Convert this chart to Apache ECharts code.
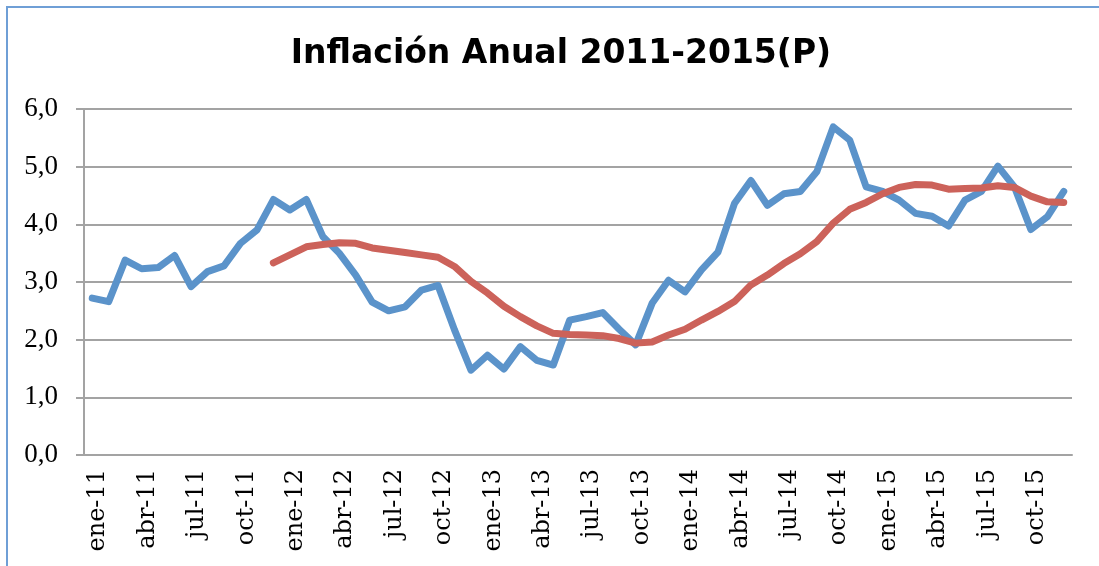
<!DOCTYPE html>
<html>
<head>
<meta charset="utf-8">
<script src="https://cdn.jsdelivr.net/npm/echarts@6/dist/echarts.min.js"></script>
<style>
  html, body { margin: 0; padding: 0; background: #fff; }
  .wrap { position: relative; width: 1099px; height: 566px; overflow: hidden; }
  .frame { position: absolute; left: 6px; top: 6px; width: 1200px; height: 700px;
           border-left: 2px solid #6f9fd6; border-top: 2px solid #6f9fd6; }
  #chart { position: absolute; left: 0; top: 0; width: 1099px; height: 566px; }
</style>
</head>
<body>
<div class="wrap">
  <div class="frame"></div>
  <div id="chart"></div>
</div>
<script>
const monthNames = ['ene', 'feb', 'mar', 'abr', 'may', 'jun', 'jul', 'ago', 'sep', 'oct', 'nov', 'dic']
const years = ['11', '12', '13', '14', '15']
const months = []
years.forEach(y => monthNames.forEach(m => months.push(m + '-' + y)))

// inflación anual mensual
const inflacion = [
  2.72, 2.66, 3.38, 3.23, 3.25, 3.46, 2.92, 3.18, 3.28, 3.67, 3.90, 4.43,
  4.25, 4.43, 3.79, 3.50, 3.12, 2.65, 2.50, 2.57, 2.86, 2.94, 2.17, 1.47,
  1.73, 1.49, 1.88, 1.64, 1.56, 2.34, 2.40, 2.47, 2.18, 1.91, 2.63, 3.03,
  2.83, 3.21, 3.52, 4.36, 4.76, 4.33, 4.53, 4.57, 4.91, 5.69, 5.46, 4.65,
  4.57, 4.42, 4.19, 4.14, 3.97, 4.42, 4.57, 5.01, 4.65, 3.91, 4.13, 4.57
]

// promedio 12 meses
const promedio = [
  null, null, null, null, null, null, null, null, null, null, null, 3.33,
  3.47, 3.61, 3.65, 3.68, 3.67, 3.59, 3.55, 3.51, 3.47, 3.43, 3.27, 3.01,
  2.81, 2.58, 2.40, 2.24, 2.11, 2.09, 2.08, 2.07, 2.02, 1.94, 1.96, 2.08,
  2.18, 2.34, 2.49, 2.66, 2.95, 3.12, 3.32, 3.49, 3.70, 4.02, 4.26, 4.38,
  4.53, 4.64, 4.69, 4.68, 4.61, 4.62, 4.63, 4.67, 4.64, 4.49, 4.39, 4.38
]

const yTicks = [0, 1, 2, 3, 4, 5, 6]

const colors = {
  blue: '#5b93ca',
  red: '#cc625a',
  axis: '#a3a3a3',
  text: '#000000'
}

const chart = echarts.init(document.getElementById('chart'))

const option = {
  backgroundColor: 'transparent',
  animation: false,
  title: {
    text: 'Inflación Anual 2011-2015(P)',
    left: 556,
    textAlign: 'center',
    top: 33,
    textStyle: {
      fontFamily: 'DejaVu Sans',
      fontWeight: 'bold',
      fontSize: 33,
      color: colors.text
    }
  },
  grid: {
    left: 84,
    right: 27,
    top: 109,
    bottom: 111,
    containLabel: false
  },
  xAxis: {
    type: 'category',
    data: months,
    boundaryGap: true,
    axisLine: { lineStyle: { color: colors.axis, width: 2 } },
    axisTick: { interval: 2, length: 8, lineStyle: { color: colors.axis, width: 2 } },
    axisLabel: {
      interval: 2,
      rotate: 90,
      margin: 14,
      verticalAlign: 'top',
      lineHeight: 12,
      fontFamily: 'DejaVu Serif',
      fontSize: 24,
      color: colors.text
    },
    splitLine: { show: false }
  },
  yAxis: {
    type: 'value',
    min: yTicks[0],
    max: yTicks[yTicks.length - 1],
    interval: 1,
    axisLine: { show: true, lineStyle: { color: colors.axis, width: 2 } },
    axisTick: { show: true, length: 8, lineStyle: { color: colors.axis, width: 2 } },
    axisLabel: {
      margin: 26,
      fontFamily: 'Liberation Serif',
      fontSize: 27,
      color: colors.text,
      formatter: v => v.toFixed(1).replace('.', ',')
    },
    splitLine: { lineStyle: { color: colors.axis, width: 2 } }
  },
  series: [
    {
      name: 'Inflación',
      type: 'line',
      data: inflacion,
      showSymbol: false,
      lineStyle: { width: 7, color: colors.blue, cap: 'round', join: 'round' },
      itemStyle: { color: colors.blue }
    },
    {
      name: 'Promedio',
      type: 'line',
      data: promedio,
      showSymbol: false,
      connectNulls: false,
      lineStyle: { width: 7, color: colors.red, cap: 'round', join: 'round' },
      itemStyle: { color: colors.red }
    }
  ]
}

chart.setOption(option)
</script>
</body>
</html>
